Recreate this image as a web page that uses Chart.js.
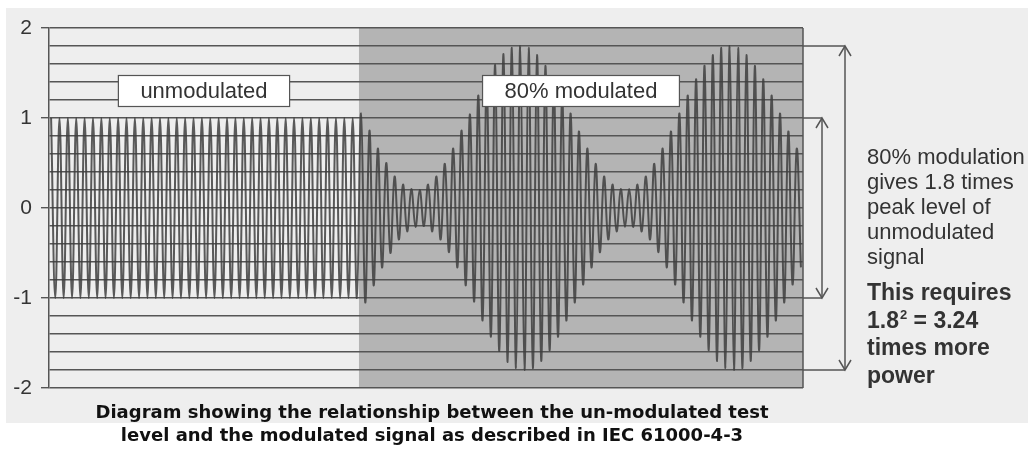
<!DOCTYPE html>
<html>
<head>
<meta charset="utf-8">
<script src="https://cdn.jsdelivr.net/npm/chart.js@4"></script>
<style>
  html, body { margin: 0; padding: 0; background: #fff; }
  #wrap { width: 1028px; height: 455px; }
</style>
</head>
<body>
<div id="wrap"><canvas id="waveChart" width="1028" height="455"></canvas></div>
<script>
// peak level of each carrier cycle
const unmodulatedPeaks = [
  1, 1, 1, 1, 1, 1, 1, 1, 1, 1, 1, 1, 1, 1, 1, 1, 1, 1, 1, 1,
  1, 1, 1, 1, 1, 1, 1, 1, 1, 1, 1, 1, 1, 1, 1, 1, 1
];
const modulatedPeaks = [
  1.05, 0.86, 0.66, 0.5, 0.35, 0.26, 0.21, 0.2, 0.26, 0.35,
  0.49, 0.66, 0.86, 1.04, 1.25, 1.43, 1.59, 1.71, 1.78, 1.8,
  1.78, 1.7, 1.58, 1.43, 1.25, 1.05, 0.85, 0.66, 0.49, 0.35,
  0.26, 0.21, 0.21, 0.26, 0.35, 0.49, 0.66, 0.85, 1.05, 1.25,
  1.43, 1.58, 1.7, 1.78, 1.8, 1.78, 1.7, 1.58, 1.43, 1.25,
  1.05, 0.85, 0.66
];
const yMin = -2;
const yMax = 2;
const gridStep = 0.2;
const regionLabels = ['unmodulated', '80% modulated'];
const labelLevel = 1.3;
const noteLines = ['80% modulation', 'gives 1.8 times', 'peak level of', 'unmodulated', 'signal'];
// each bold line: [text, superscript, rest]
const noteBoldLines = [
  ['This requires', '', ''],
  ['1.8', '2', ' = 3.24'],
  ['times more', '', ''],
  ['power', '', '']
];
const captionLines = [
  'Diagram showing the relationship between the un-modulated test',
  'level and the modulated signal as described in IEC 61000-4-3'
];

const allPeaks = unmodulatedPeaks.concat(modulatedPeaks);
const wavePoints = [];
allPeaks.forEach((a, i) => {
  wavePoints.push({ x: i + 0.25, y: a });
  wavePoints.push({ x: i + 0.75, y: -a });
});

const isWhole = v => Math.abs(v - Math.round(v)) < 1e-6;
const LINE = '#555555';
const TEXT = '#333333';
const SANS = '"Liberation Sans", Arial, sans-serif';

function arrowHead(ctx, x, y, dir) {
  ctx.beginPath();
  ctx.moveTo(x - 6, y + dir * 10);
  ctx.lineTo(x, y);
  ctx.lineTo(x + 6, y + dir * 10);
  ctx.stroke();
}

const decorPlugin = {
  id: 'decor',
  beforeDraw(chart) {
    const { ctx, chartArea: a, scales: { x } } = chart;
    ctx.save();
    ctx.fillStyle = '#ffffff';
    ctx.fillRect(0, 0, chart.width, chart.height);
    ctx.fillStyle = '#eeeeee';
    ctx.fillRect(6, 8, chart.width - 6, 415);
    const split = x.getPixelForValue(unmodulatedPeaks.length);
    ctx.fillStyle = '#b4b4b4';
    ctx.fillRect(split, a.top, a.right - split, a.bottom - a.top);
    ctx.restore();
  },
  afterDraw(chart) {
    const { ctx, chartArea: a, scales: { x, y } } = chart;
    ctx.save();

    // plot right border
    ctx.strokeStyle = LINE;
    ctx.lineWidth = 1.5;
    ctx.beginPath();
    ctx.moveTo(a.right, a.top);
    ctx.lineTo(a.right, a.bottom);
    ctx.stroke();

    // region labels
    ctx.font = '22px ' + SANS;
    ctx.textAlign = 'center';
    ctx.textBaseline = 'middle';
    const spans = [[0, unmodulatedPeaks.length], [unmodulatedPeaks.length, allPeaks.length]];
    regionLabels.forEach((txt, i) => {
      const cx = x.getPixelForValue((spans[i][0] + spans[i][1]) / 2);
      const cy = y.getPixelForValue(labelLevel);
      const w = ctx.measureText(txt).width + 44;
      const h = 31;
      ctx.fillStyle = '#ffffff';
      ctx.fillRect(cx - w / 2, cy - h / 2, w, h);
      ctx.strokeStyle = '#555';
      ctx.lineWidth = 1.2;
      ctx.strokeRect(cx - w / 2, cy - h / 2, w, h);
      ctx.fillStyle = TEXT;
      ctx.fillText(txt, cx, cy + 1);
    });

    // level arrows
    const levels = [Math.max(...modulatedPeaks), Math.max(...unmodulatedPeaks)];
    const offsets = [42, 19];
    ctx.strokeStyle = LINE;
    ctx.lineWidth = 1.5;
    levels.forEach((lv, i) => {
      const ax = a.right + offsets[i];
      const yt = y.getPixelForValue(lv);
      const yb = y.getPixelForValue(-lv);
      ctx.beginPath();
      ctx.moveTo(a.right, yt); ctx.lineTo(ax, yt);
      ctx.moveTo(a.right, yb); ctx.lineTo(ax, yb);
      ctx.moveTo(ax, yt); ctx.lineTo(ax, yb);
      ctx.stroke();
      arrowHead(ctx, ax, yt, 1);
      arrowHead(ctx, ax, yb, -1);
    });

    // side notes
    const nx = a.right + 64;
    ctx.textAlign = 'left';
    ctx.textBaseline = 'alphabetic';
    ctx.fillStyle = TEXT;
    ctx.font = '22px ' + SANS;
    noteLines.forEach((t, i) => ctx.fillText(t, nx, 164 + i * 25));
    noteBoldLines.forEach(([t, sup, rest], i) => {
      const by = 300 + i * 27.7;
      ctx.font = 'bold 23px ' + SANS;
      ctx.fillText(t, nx, by);
      let cx = nx + ctx.measureText(t).width;
      if (sup) {
        ctx.font = 'bold 13px ' + SANS;
        ctx.fillText(sup, cx + 1, by - 9);
        cx += ctx.measureText(sup).width + 1;
        ctx.font = 'bold 23px ' + SANS;
        ctx.fillText(rest, cx, by);
      }
    });

    // caption
    ctx.fillStyle = '#111111';
    ctx.textAlign = 'center';
    ctx.font = 'bold 18px "DejaVu Sans", Verdana, sans-serif';
    captionLines.forEach((t, i) => ctx.fillText(t, 432, 418 + i * 23));

    ctx.restore();
  }
};

new Chart(document.getElementById('waveChart'), {
  type: 'line',
  data: {
    datasets: [{
      data: wavePoints,
      borderColor: 'rgba(62, 62, 62, 0.85)',
      borderWidth: 2,
      pointRadius: 0,
      tension: 0.4,
      fill: false
    }]
  },
  options: {
    responsive: false,
    animation: false,
    devicePixelRatio: 1,
    events: [],
    layout: { padding: { left: 0, top: 28, right: 225, bottom: 67 } },
    plugins: {
      legend: { display: false },
      tooltip: { enabled: false }
    },
    scales: {
      x: { type: 'linear', display: false, min: 0, max: allPeaks.length },
      y: {
        min: yMin,
        max: yMax,
        afterFit: s => { s.width = 49; },
        border: { display: true, color: LINE, width: 1.5 },
        grid: {
          color: LINE,
          lineWidth: 1.4,
          drawTicks: true,
          tickLength: 8,
          tickColor: c => isWhole(c.tick.value) ? LINE : 'rgba(0,0,0,0)'
        },
        ticks: {
          stepSize: gridStep,
          autoSkip: false,
          padding: 9,
          color: TEXT,
          font: { family: SANS, size: 21 },
          callback: v => isWhole(v) ? String(Math.round(v)) : ''
        }
      }
    }
  },
  plugins: [decorPlugin]
});
</script>
</body>
</html>
